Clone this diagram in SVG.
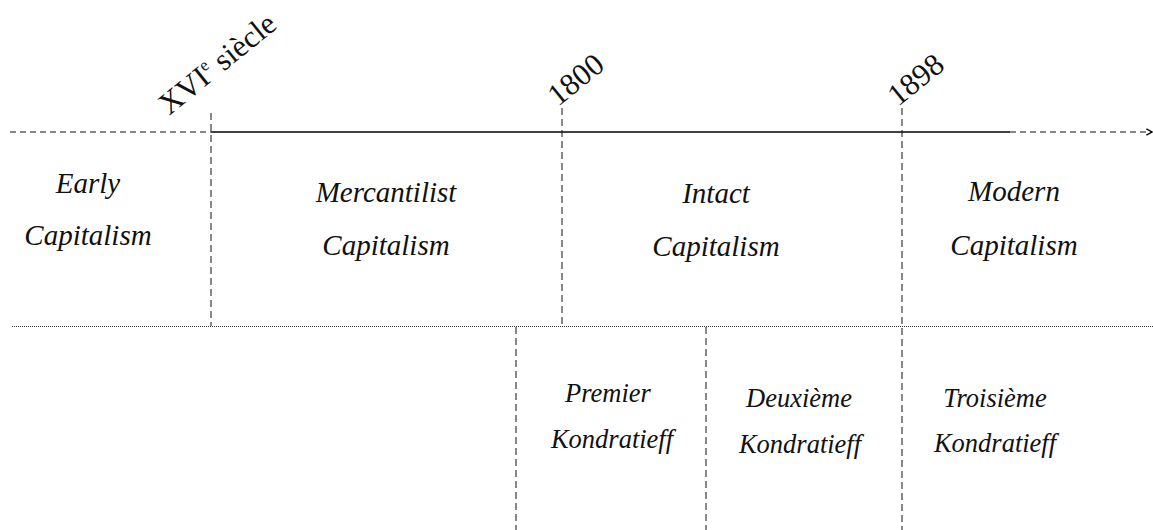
<svg xmlns="http://www.w3.org/2000/svg" width="1153" height="530" viewBox="0 0 1153 530">
  <style>
    .lbl { font-family: "Liberation Serif", "Times New Roman", serif; font-style: italic; font-size: 29px; fill: #111; text-anchor: middle; }
    .kon { font-family: "Liberation Serif", "Times New Roman", serif; font-style: italic; font-size: 26.5px; fill: #111; text-anchor: middle; }
    .date { font-family: "Liberation Serif", "Times New Roman", serif; font-size: 31px; fill: #111; }
    .axis { stroke: #000; stroke-width: 1.3; fill: none; }
    .dash { stroke: #111; stroke-width: 1.2; stroke-dasharray: 6 4; fill: none; }
    .vdash { stroke: #111; stroke-width: 1; stroke-dasharray: 7 4; fill: none; }
    .dot { stroke: #333; stroke-width: 1; stroke-dasharray: 1 1; fill: none; }
  </style>
  <defs>
    <marker id="chev" viewBox="0 0 10 10" refX="9" refY="5" markerWidth="7" markerHeight="10" markerUnits="userSpaceOnUse" orient="auto">
      <path d="M1,0.5 L9,5 L1,9.5" fill="none" stroke="#000" stroke-width="2"/>
    </marker>
  </defs>

  <g id="connectors">
    <line class="dash" x1="10" y1="132" x2="211" y2="132"/>
    <line class="axis" x1="211" y1="132" x2="1010" y2="132"/>
    <line class="dash" x1="1010" y1="132" x2="1152" y2="132" marker-end="url(#chev)"/>
    <line class="vdash" x1="211" y1="113" x2="211" y2="326"/>
    <line class="vdash" x1="562" y1="108" x2="562" y2="327"/>
    <line class="vdash" x1="902" y1="108" x2="902" y2="530"/>
    <line class="dot" x1="12" y1="326.5" x2="1153" y2="326.5"/>
    <line class="vdash" x1="516" y1="327" x2="516" y2="530"/>
    <line class="vdash" x1="706" y1="327" x2="706" y2="530"/>
  </g>

  <g id="date-xvi">
    <text class="date" transform="translate(169,116) rotate(-39)">XVI<tspan font-size="17" dy="-12">e</tspan><tspan dy="12"> siècle</tspan></text>
  </g>
  <g id="date-1800">
    <text class="date" transform="translate(558,107) rotate(-39)">1800</text>
  </g>
  <g id="date-1898">
    <text class="date" transform="translate(898,107) rotate(-39)">1898</text>
  </g>

  <g id="early">
    <text class="lbl" x="88" y="193">Early</text>
    <text class="lbl" x="88" y="245">Capitalism</text>
  </g>
  <g id="mercantilist">
    <text class="lbl" x="386" y="202">Mercantilist</text>
    <text class="lbl" x="386" y="255">Capitalism</text>
  </g>
  <g id="intact">
    <text class="lbl" x="716" y="203">Intact</text>
    <text class="lbl" x="716" y="256">Capitalism</text>
  </g>
  <g id="modern">
    <text class="lbl" x="1014" y="201">Modern</text>
    <text class="lbl" x="1014" y="255">Capitalism</text>
  </g>

  <g id="premier">
    <text class="kon" x="608" y="402">Premier</text>
    <text class="kon" x="612" y="448">Kondratieff</text>
  </g>
  <g id="deuxieme">
    <text class="kon" x="799" y="407">Deuxième</text>
    <text class="kon" x="800" y="453">Kondratieff</text>
  </g>
  <g id="troisieme">
    <text class="kon" x="995" y="407">Troisième</text>
    <text class="kon" x="995" y="452">Kondratieff</text>
  </g>
</svg>
